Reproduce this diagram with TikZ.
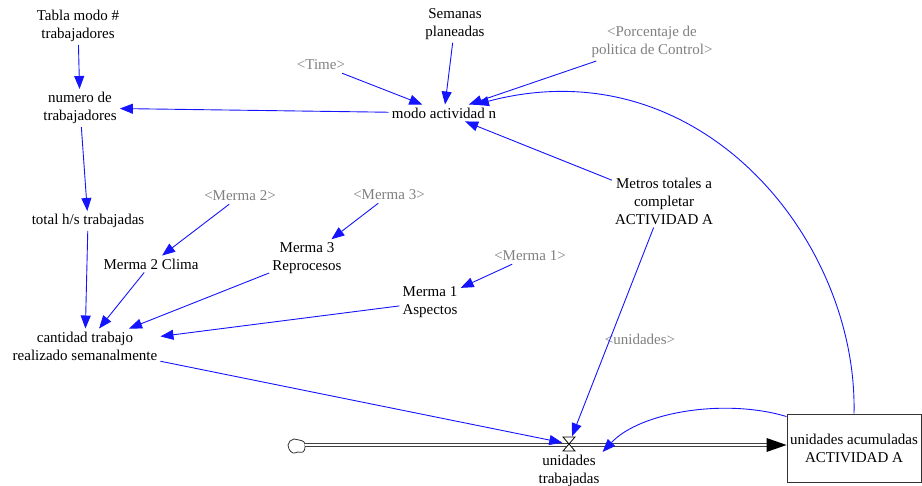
\documentclass[tikz,border=0pt]{standalone}
\usepackage{fontspec}
\setmainfont{Liberation Serif}
\usetikzlibrary{arrows.meta,calc}
\definecolor{lnk}{RGB}{20,20,255}
\definecolor{shadow}{RGB}{128,128,128}
\begin{document}
\begin{tikzpicture}[x=1pt,y=-1pt,
  var/.style={align=center,inner sep=3pt,font=\fontsize{15}{18}\selectfont,text=black},
  ghost/.style={var,text=shadow},
  link/.style={draw=lnk,line width=0.9pt,-{Triangle[length=13pt,width=10pt]}},
  pipe/.style={draw=black!75,line width=0.8pt,double=white,double distance=2.2pt},
  stockbox/.style={draw=black!80,line width=0.9pt,minimum width=134pt,minimum height=68pt,inner sep=0pt,align=center,font=\fontsize{15}{18}\selectfont}]
\useasboundingbox (0,0) rectangle (922,486);

% variables
\node[var] (tabla) at (78,26) {Tabla modo \#\\trabajadores};
\node[var] (semanas) at (455,24) {Semanas\\planeadas};
\node[ghost] (porc) at (652,42) {<Porcentaje de\\politica de Control>};
\node[ghost] (time) at (321,65) {<Time>};
\node[var] (numero) at (80,108) {numero de\\trabajadores};
\node[var] (modo) at (444,113) {modo actividad n};
\node[var] (metros) at (664,201) {Metros totales a\\completar\\ACTIVIDAD A};
\node[ghost] (m2g) at (240,196) {<Merma 2>};
\node[ghost] (m3g) at (389,195) {<Merma 3>};
\node[var] (total) at (88,221) {total h/s trabajadas};
\node[var] (m2) at (151,264) {Merma 2 Clima};
\node[var] (m3) at (307,258) {Merma 3\\Reprocesos};
\node[ghost] (m1g) at (530,256) {<Merma 1>};
\node[var] (m1) at (430,302) {Merma 1\\Aspectos};
\node[var] (cant) at (85,346) {cantidad trabajo\\realizado semanalmente};
\node[ghost] (unid) at (640,339) {<unidades>};
\node[var] (trab) at (569,471) {unidades\\trabajadas};

% stock
\node[stockbox] (stock) at (854,448) {unidades acumuladas\\ACTIVIDAD A};

% cloud
\node[minimum width=16pt,minimum height=14pt,inner sep=0pt] (cloud) at (297,445) {};
\draw[black!80,line width=0.8pt,fill=white] plot[smooth cycle,tension=0.8] coordinates {
  ($(cloud)+(-7,-4)$) ($(cloud)+(-3,-6)$) ($(cloud)+(2,-5)$) ($(cloud)+(7,-3)$)
  ($(cloud)+(8,2)$) ($(cloud)+(6,7)$) ($(cloud)+(1,7)$) ($(cloud)+(-4,8)$)
  ($(cloud)+(-8,4)$) ($(cloud)+(-9,0)$)};

% valve
\node[minimum width=13pt,minimum height=15pt,inner sep=0pt] (valve) at (569,444) {};
\coordinate (pipeEnd) at ([yshift=3pt]stock.west);
\draw[pipe] (cloud.east) -- ([xshift=-18pt]pipeEnd);
\fill[black] (pipeEnd) -- ++(-20,-7) -- ++(0,14) -- cycle;
\draw[black,line width=0.8pt,fill=white]
  ($(valve)+(-6,-7)$) -- ($(valve)+(6,-7)$) -- ($(valve)+(-6,7)$) -- ($(valve)+(6,7)$) -- cycle;

% links
\draw[link] (tabla) -- (numero);
\draw[link] (time) -- (modo);
\draw[link] (semanas) -- (modo);
\draw[link] (porc) -- (modo);
\draw[link] (modo) -- (numero);
\draw[link] (metros) -- (modo);
\draw[link] (stock.north) .. controls (858,240) and (700,45) .. (modo);
\draw[link] (numero) -- (total);
\draw[link] (total) -- (cant);
\draw[link] (m2g) -- (m2);
\draw[link] (m3g) -- (m3);
\draw[link] (m2) -- (cant);
\draw[link] (m3) -- (cant);
\draw[link] (m1g) -- (m1);
\draw[link] (m1) -- (cant);
\draw[link] (cant) -- (valve);
\draw[link] (metros) -- (valve);
\draw[link] ([yshift=-3pt]stock.north west) .. controls (725,398) and (640,412) .. (trab.north east);
\end{tikzpicture}
\end{document}
